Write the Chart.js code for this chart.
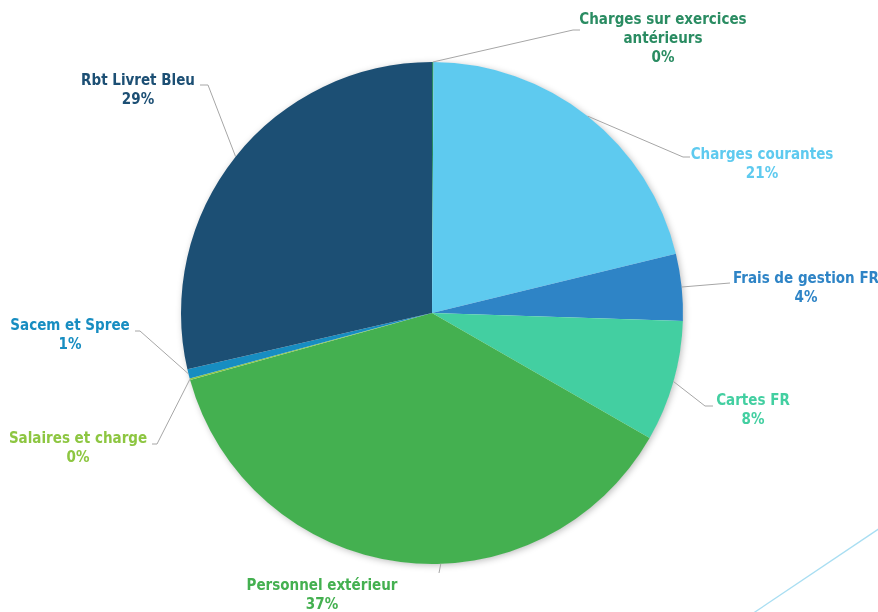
<!DOCTYPE html>
<html lang="fr">
<head>
<meta charset="utf-8">
<title>Répartition des charges</title>
<script src="https://cdn.jsdelivr.net/npm/chart.js@4.4.1/dist/chart.umd.min.js"></script>
<style>
  html, body { margin: 0; padding: 0; background: #fff; }
  #wrap { position: relative; width: 878px; height: 612px; overflow: hidden; }
  #deco { position: absolute; left: 0; top: 0; pointer-events: none; }
</style>
</head>
<body>
<div id="wrap">
  <canvas id="chart" width="878" height="612"></canvas>
  <svg id="deco" width="878" height="612">
    <line x1="880" y1="528" x2="752" y2="614" stroke="#a9def2" stroke-width="1.3"/>
  </svg>
</div>
<script>
// catégories (ordre horaire depuis midi)
const categories = [
  ["Charges sur exercices", "antérieurs"],
  "Charges courantes",
  "Frais de gestion FR",
  "Cartes FR",
  "Personnel extérieur",
  "Salaires et charge",
  "Sacem et Spree",
  "Rbt Livret Bleu",
];

// parts en %
const values = [0.1, 21.1, 4.3, 7.8, 37.4, 0.1, 0.6, 28.6];

const sliceColors = [
  "#2a8c62", "#5ecaef", "#2e84c6", "#43cfa1",
  "#44b050", "#8dc641", "#178dc1", "#1c4f74",
];
const textColors = [
  "#2a8c62", "#5ecaef", "#2e84c6", "#43cfa1",
  "#44b050", "#8dc641", "#178dc1", "#1c4f74",
];

// placement des étiquettes, relatif au centre du camembert
// pts = coudes de la ligne de rappel, txt = centre de la 1re ligne
const labelLayout = [
  { pts: [[141, -283], [148, -283]], txt: [231, -293] },
  { pts: [[251, -156], [258, -156]], txt: [330, -158] },
  { pts: [[298, -30]], txt: [374, -34] },
  { pts: [[273, 93], [281, 93]], txt: [321, 88] },
  { angle: 178, pts: [[7, 260]], txt: [-110, 273] },
  { pts: [[-275, 131], [-280, 131]], txt: [-354, 126] },
  { pts: [[-292, 18], [-297, 18]], txt: [-362, 13] },
  { pts: [[-224, -228], [-232, -228]], txt: [-294, -232] },
];

const total = values.reduce((a, b) => a + b, 0);

const shadowPlugin = {
  id: "pieShadow",
  beforeDatasetsDraw(chart) {
    const arc = chart.getDatasetMeta(0).data[0];
    if (!arc) return;
    const ctx = chart.ctx;
    ctx.save();
    ctx.shadowColor = "rgba(0,0,0,0.28)";
    ctx.shadowBlur = 7;
    ctx.shadowOffsetX = 1.5;
    ctx.shadowOffsetY = 1.5;
    ctx.fillStyle = "#fff";
    ctx.beginPath();
    ctx.arc(arc.x, arc.y, arc.outerRadius - 0.5, 0, Math.PI * 2);
    ctx.fill();
    ctx.restore();
  },
};

const labelPlugin = {
  id: "outsideLabels",
  afterDatasetsDraw(chart) {
    const ctx = chart.ctx;
    const arcs = chart.getDatasetMeta(0).data;
    ctx.save();
    arcs.forEach((arc, i) => {
      const lay = labelLayout[i];
      const cx = arc.x, cy = arc.y, r = arc.outerRadius;
      let a = (arc.startAngle + arc.endAngle) / 2;
      if (lay.angle !== undefined) a = (lay.angle - 90) * Math.PI / 180;
      // ligne de rappel
      ctx.strokeStyle = "#a6a6a6";
      ctx.lineWidth = 1;
      ctx.beginPath();
      ctx.moveTo(cx + Math.cos(a) * r, cy + Math.sin(a) * r);
      lay.pts.forEach((p) => ctx.lineTo(cx + p[0], cy + p[1]));
      ctx.stroke();

      // texte
      const name = categories[i];
      const lines = (Array.isArray(name) ? name : [name]).slice();
      lines.push(Math.round(values[i] / total * 100) + "%");
      ctx.fillStyle = textColors[i];
      ctx.font = "bold 15px 'DejaVu Sans Condensed', 'DejaVu Sans'";
      ctx.textAlign = "center";
      ctx.textBaseline = "middle";
      lines.forEach((t, k) => {
        ctx.fillText(t, cx + lay.txt[0], cy + lay.txt[1] + k * 19);
      });
    });
    ctx.restore();
  },
};

new Chart(document.getElementById("chart"), {
  type: "pie",
  data: {
    labels: categories,
    datasets: [{
      data: values,
      backgroundColor: sliceColors,
      borderWidth: 0,
    }],
  },
  options: {
    responsive: false,
    animation: false,
    devicePixelRatio: 1,
    layout: { padding: { left: 181, right: 195, top: 62, bottom: 48 } },
    plugins: {
      legend: { display: false },
      tooltip: { enabled: false },
    },
  },
  plugins: [shadowPlugin, labelPlugin],
});
</script>
</body>
</html>
